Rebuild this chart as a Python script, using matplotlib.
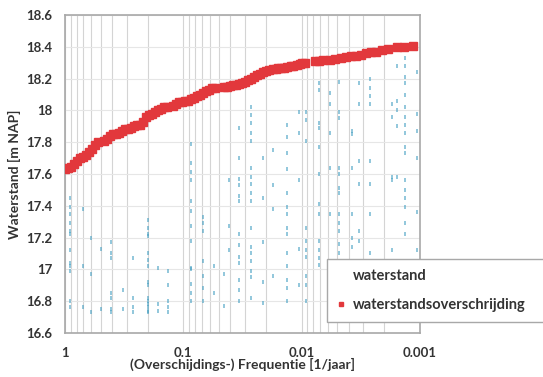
import matplotlib.pyplot as plt
from matplotlib.ticker import LogLocator, NullFormatter

plt.rcParams['font.family'] = ['Lato', 'DejaVu Sans']

# overschrijdingsfrequentie (rood)
red_freq = [1.0, 0.943, 0.890, 0.839, 0.791, 0.746, 0.704, 0.664, 0.626, 0.590, 0.557, 0.525,
            0.467, 0.440, 0.415, 0.392, 0.370, 0.349, 0.329, 0.310, 0.292, 0.276, 0.260, 0.245,
            0.231, 0.218, 0.206, 0.194, 0.183, 0.173, 0.163, 0.154, 0.145, 0.137,
            0.122, 0.115, 0.108, 0.102, 0.0963, 0.0908, 0.0856, 0.0808, 0.0762, 0.0719, 0.0678,
            0.0639, 0.0603, 0.0569, 0.0536,
            0.0450, 0.0424, 0.0400, 0.0377, 0.0356, 0.0336, 0.0317, 0.0299, 0.0282, 0.0266,
            0.0251, 0.0236, 0.0223, 0.0210, 0.0198, 0.0187, 0.0176, 0.0166, 0.0157, 0.0148,
            0.0140, 0.0132, 0.0124, 0.0117, 0.0110, 0.0104, 0.00983, 0.00927,
            0.00763, 0.00705, 0.00653, 0.00570, 0.00517, 0.00468, 0.00424, 0.00385, 0.00349,
            0.00316, 0.00286, 0.00260, 0.00235, 0.00210, 0.00187, 0.00157, 0.00135, 0.00114]
red_level = [17.63, 17.64, 17.645, 17.66, 17.68, 17.70, 17.71, 17.72, 17.74, 17.76, 17.78, 17.80,
             17.81, 17.82, 17.84, 17.85, 17.85, 17.86, 17.87, 17.88, 17.88, 17.89, 17.90, 17.91,
             17.91, 17.93, 17.96, 17.97, 17.98, 17.99, 18.00, 18.01, 18.02, 18.02,
             18.03, 18.04, 18.05, 18.05, 18.06, 18.06, 18.07, 18.08, 18.09, 18.10, 18.11,
             18.12, 18.13, 18.14, 18.14,
             18.15, 18.15, 18.155, 18.16, 18.16, 18.165, 18.17, 18.18, 18.19, 18.20,
             18.21, 18.22, 18.23, 18.24, 18.25, 18.255, 18.26, 18.26, 18.265, 18.27,
             18.27, 18.275, 18.28, 18.28, 18.285, 18.29, 18.30, 18.30,
             18.31, 18.31, 18.315, 18.32, 18.325, 18.33, 18.335, 18.34, 18.345,
             18.35, 18.36, 18.365, 18.37, 18.38, 18.385, 18.40, 18.40, 18.405]

# waterstanden (blauw), per kolom
blue_freq = [0.907, 0.704, 0.602, 0.495, 0.407, 0.323, 0.265, 0.198, 0.163, 0.134,
             0.0856, 0.0678, 0.0547, 0.0450, 0.0408, 0.0336, 0.0266, 0.0210, 0.0173, 0.0134,
             0.0106, 0.00910, 0.00705, 0.00580, 0.00479, 0.00377, 0.00325, 0.00266,
             0.00173, 0.00157, 0.00134, 0.00106]
blue_levels = [
    [17.45, 17.39, 17.35, 17.29, 17.24, 17.22, 17.12, 17.04, 17.02, 16.99, 16.80, 16.76],
    [17.38, 17.02, 16.76],
    [17.20, 16.97, 16.73],
    [17.13, 16.75],
    [17.17, 17.10, 17.07, 16.85, 16.82, 16.75, 16.73],
    [16.87, 16.75],
    [17.07, 16.82, 16.76, 16.73],
    [17.31, 17.26, 17.22, 17.21, 17.10, 17.06, 17.02, 16.92, 16.90, 16.82, 16.80, 16.78, 16.76, 16.74, 16.73],
    [17.01, 16.78, 16.74],
    [16.99, 16.90, 16.80, 16.76, 16.73],
    [17.79, 17.67, 17.61, 17.56, 17.43, 17.37, 17.27, 17.18, 17.01, 17.00, 16.91, 16.85, 16.80],
    [17.33, 17.29, 17.24, 17.05, 16.96, 16.88, 16.80],
    [17.02, 16.85],
    [16.97, 16.77],
    [17.56, 17.27, 17.12],
    [17.89, 17.70, 17.57, 17.53, 17.46, 17.43, 17.22, 17.15, 17.08, 17.04, 16.93, 16.87, 16.80],
    [18.02, 17.97, 17.92, 17.86, 17.81, 17.64, 17.58, 17.54, 17.48, 17.43, 17.26, 17.14, 17.10, 17.05, 16.99, 16.95, 16.82],
    [17.70, 17.45, 17.17, 16.92, 16.79],
    [17.75, 17.53, 17.38, 16.96],
    [17.91, 17.83, 17.73, 17.63, 17.48, 17.39, 17.35, 17.26, 17.22, 17.10, 17.02, 16.93, 16.88, 16.80],
    [17.99, 17.86, 17.56, 17.13, 16.90],
    [17.99, 17.94, 17.81, 17.26, 17.18, 17.12, 17.08, 16.96, 16.90, 16.80],
    [18.17, 18.13, 17.92, 17.89, 17.77, 17.60, 17.41, 17.35, 17.18, 17.12, 17.07, 17.03],
    [18.11, 18.04, 17.86, 17.64, 17.35],
    [18.18, 17.99, 17.95, 17.64, 17.60, 17.51, 17.48, 17.35, 17.29, 17.24, 17.16, 17.10],
    [17.87, 17.85, 17.64, 17.35, 17.20, 17.14],
    [18.17, 18.04, 17.68, 17.54, 17.24, 17.18],
    [18.20, 18.14, 18.09, 18.04, 17.68, 17.54, 17.35, 17.10],
    [18.04, 17.96, 17.58, 17.56, 17.12],
    [18.28, 18.06, 18.00, 17.90, 17.58],
    [18.33, 18.28, 18.21, 18.17, 18.10, 18.02, 17.96, 17.91, 17.86, 17.77, 17.73, 17.56, 17.50, 17.45, 17.39, 17.29, 17.22],
    [18.24, 17.98, 17.87, 17.70, 17.36, 17.12],
]

y_ticks = [16.6, 16.8, 17.0, 17.2, 17.4, 17.6, 17.8, 18.0, 18.2, 18.4, 18.6]
y_labels = ['16.6', '16.8', '17', '17.2', '17.4', '17.6', '17.8', '18', '18.2', '18.4', '18.6']
x_ticks = [1, 0.1, 0.01, 0.001]
x_labels = ['1', '0.1', '0.01', '0.001']

fig = plt.figure(figsize=(5.43, 3.77), dpi=100)
ax = fig.add_axes([0.120, 0.117, 0.653, 0.843])

bx, by = [], []
for f, levels in zip(blue_freq, blue_levels):
    for lv in levels:
        bx.append(f)
        by.append(lv)

ax.plot(bx, by, ls='none', marker='|', ms=3.2, mew=1.2, color='#4aa2c4', alpha=0.7,
        label='waterstand', zorder=2)
ax.plot(red_freq, red_level, ls='none', marker='s', ms=6, color='#e2383c',
        label='waterstandsoverschrijding', zorder=3)

ax.set_xscale('log')
ax.set_xlim(1, 0.001)
ax.set_ylim(16.6, 18.6)
ax.set_xticks(x_ticks)
ax.set_xticklabels(x_labels)
ax.xaxis.set_minor_locator(LogLocator(base=10, subs=range(2, 10)))
ax.xaxis.set_minor_formatter(NullFormatter())
ax.set_yticks(y_ticks)
ax.set_yticklabels(y_labels)

ax.grid(True, which='major', axis='y', color='#e6e6e6', lw=0.8)
ax.grid(True, which='both', axis='x', color='#d4d4d4', lw=0.8)
ax.set_axisbelow(True)

ax.tick_params(which='both', length=0)
ax.tick_params(axis='x', pad=10, labelsize=9.5, labelcolor='#333333')
ax.tick_params(axis='y', pad=9, labelsize=9.5, labelcolor='#333333')
for lab in ax.get_xticklabels() + ax.get_yticklabels():
    lab.set_fontweight('bold')
for s in ax.spines.values():
    s.set_color('#a8a8a8')
    s.set_linewidth(1.2)

ax.set_xlabel('(Overschijdings-) Frequentie [1/jaar]', fontsize=10, fontweight='bold',
              color='#333333', labelpad=-1)
ax.set_ylabel('Waterstand [m NAP]', fontsize=10, fontweight='bold', color='#333333',
              labelpad=4)

leg = ax.legend(loc='lower left', bbox_to_anchor=(327 / 543, 55 / 377, 230 / 543, 59 / 377),
                bbox_transform=fig.transFigure, mode='expand', frameon=True, fancybox=False,
                prop={'weight': 'bold', 'size': 10.5}, handlelength=0.5, handletextpad=0.6,
                markerscale=0.5, labelspacing=1.0, borderpad=0.7, borderaxespad=0)
leg.get_frame().set_edgecolor('#a8a8a8')
leg.get_frame().set_linewidth(1.0)
leg.get_frame().set_alpha(1)
leg.legend_handles[0].set_alpha(0.0)
for t in leg.get_texts():
    t.set_color('#333333')

fig.savefig('out.png', dpi=100)
